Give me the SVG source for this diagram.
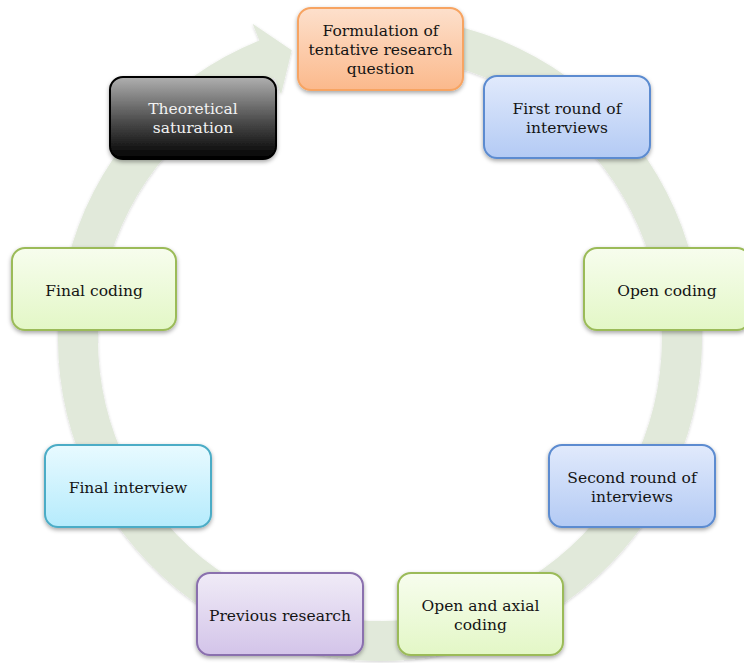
<svg xmlns="http://www.w3.org/2000/svg" width="744" height="663" viewBox="0 0 744 663">
  <defs>
    <filter id="sh" x="-10%" y="-10%" width="120%" height="130%">
      <feDropShadow dx="0" dy="2" stdDeviation="2" flood-color="#000" flood-opacity="0.35"/>
    </filter>
    <filter id="rsh" x="-5%" y="-5%" width="110%" height="110%">
      <feDropShadow dx="0" dy="1" stdDeviation="1.5" flood-color="#000" flood-opacity="0.18"/>
    </filter>
    <linearGradient id="gOrange" x1="0" y1="0" x2="0" y2="1">
      <stop offset="0" stop-color="#fde0cc"/>
      <stop offset="1" stop-color="#fbb98c"/>
    </linearGradient>
    <linearGradient id="gBlack" x1="0" y1="0" x2="0" y2="1">
      <stop offset="0" stop-color="#b0b0b0"/>
      <stop offset="0.55" stop-color="#4a4a4a"/>
      <stop offset="1" stop-color="#000000"/>
    </linearGradient>
    <linearGradient id="gBlue" x1="0" y1="0" x2="0" y2="1">
      <stop offset="0" stop-color="#e1eafc"/>
      <stop offset="1" stop-color="#b3caf4"/>
    </linearGradient>
    <linearGradient id="gGreen" x1="0" y1="0" x2="0" y2="1">
      <stop offset="0" stop-color="#f7fdee"/>
      <stop offset="1" stop-color="#e3f7c6"/>
    </linearGradient>
    <linearGradient id="gCyan" x1="0" y1="0" x2="0" y2="1">
      <stop offset="0" stop-color="#e8faff"/>
      <stop offset="1" stop-color="#b5ebfc"/>
    </linearGradient>
    <linearGradient id="gPurple" x1="0" y1="0" x2="0" y2="1">
      <stop offset="0" stop-color="#f0ebf7"/>
      <stop offset="1" stop-color="#d3c4e9"/>
    </linearGradient>
    <style>
      .box { stroke-width: 2; filter: url(#sh); }
      .orange { fill: url(#gOrange); stroke: #f7a462; }
      .black { fill: url(#gBlack); stroke: #000000; }
      .blue { fill: url(#gBlue); stroke: #5b8bd0; }
      .green { fill: url(#gGreen); stroke: #9bbb59; }
      .cyan { fill: url(#gCyan); stroke: #4bacc6; }
      .purple { fill: url(#gPurple); stroke: #8a6fae; }
      text { font-family: "DejaVu Serif", "Liberation Serif", serif; font-size: 15.5px; fill: #141414; text-anchor: middle; }
      text.light { fill: #f2f2f2; }
      .ring { fill: #e1e9da; filter: url(#rsh); }
    </style>
  </defs>
  <rect width="744" height="663" fill="#ffffff"/>

  <g id="connectors">
    <path class="ring" d="M 446.9 24.0 A 322 322 0 1 1 259.4 40.4 L 252.6 23.8 L 291.7 50.2 L 281.1 94.2 L 274.4 77.5 A 282 282 0 1 0 438.6 63.2 Z"/>
  </g>

  <g id="node-formulation">
    <rect class="box orange" x="298" y="8" width="165" height="82" rx="13"/>
    <text x="380.5" y="36">Formulation of</text>
    <text x="380.5" y="55">tentative research</text>
    <text x="380.5" y="74">question</text>
  </g>

  <g id="node-first-round">
    <rect class="box blue" x="484" y="76" width="166" height="82" rx="13"/>
    <text x="567" y="114">First round of</text>
    <text x="567" y="133">interviews</text>
  </g>

  <g id="node-open-coding">
    <rect class="box green" x="584" y="248" width="166" height="82" rx="13"/>
    <text x="667" y="296">Open coding</text>
  </g>

  <g id="node-second-round">
    <rect class="box blue" x="549" y="445" width="166" height="82" rx="13"/>
    <text x="632" y="483">Second round of</text>
    <text x="632" y="502">interviews</text>
  </g>

  <g id="node-open-axial">
    <rect class="box green" x="398" y="573" width="165" height="82" rx="13"/>
    <text x="480.5" y="611">Open and axial</text>
    <text x="480.5" y="630">coding</text>
  </g>

  <g id="node-previous-research">
    <rect class="box purple" x="197" y="573" width="166" height="82" rx="13"/>
    <text x="280" y="621">Previous research</text>
  </g>

  <g id="node-final-interview">
    <rect class="box cyan" x="45" y="445" width="166" height="82" rx="13"/>
    <text x="128" y="493">Final interview</text>
  </g>

  <g id="node-final-coding">
    <rect class="box green" x="12" y="248" width="164" height="82" rx="13"/>
    <text x="94" y="296">Final coding</text>
  </g>

  <g id="node-theoretical-saturation">
    <rect class="box black" x="110" y="77" width="166" height="82" rx="13"/>
    <text class="light" x="193" y="114">Theoretical</text>
    <text class="light" x="193" y="133">saturation</text>
  </g>
</svg>
